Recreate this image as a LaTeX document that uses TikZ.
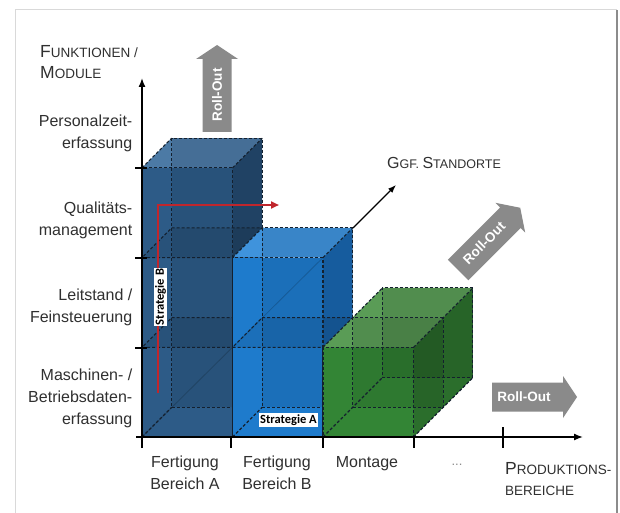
\documentclass[tikz,border=0pt]{standalone}
\usepackage{fontspec}
\setmainfont{Liberation Sans}
\newfontfamily\stratfont{Carlito}
\usetikzlibrary{arrows.meta}
\definecolor{dbF}{HTML}{2D5B87}
\definecolor{dbT}{HTML}{4C7AA5}
\definecolor{dbR}{HTML}{24496F}
\definecolor{lbF}{HTML}{1E7BCC}
\definecolor{lbT}{HTML}{3F93DC}
\definecolor{lbR}{HTML}{1966AE}
\definecolor{grF}{HTML}{338535}
\definecolor{grT}{HTML}{5A9C56}
\definecolor{grR}{HTML}{2B6E2C}
\definecolor{edgecol}{HTML}{14202E}
\definecolor{rollgray}{HTML}{8A8A8A}
\definecolor{stratred}{HTML}{C0262C}
\definecolor{txtcol}{HTML}{303030}
\newcommand{\SCbig}[1]{{\fontsize{17.5}{21}\selectfont #1}}
\newcommand{\SCsm}[1]{{\fontsize{13.5}{21}\selectfont #1}}
\newcommand{\rollarrow}[4]{%
  \begin{scope}[shift={(#1,#2)}, rotate=#3]
    \fill[rollgray] (0,-14.5) -- ({#4-14},-14.5) -- ({#4-14},-21) -- (#4,0)
      -- ({#4-14},21) -- ({#4-14},14.5) -- (0,14.5) -- cycle;
  \end{scope}}
\tikzset{
  hid/.style={draw=edgecol, line width=1.1pt, dash pattern=on 3pt off 2pt},
  shadeov/.style={fill=black, fill opacity=0.09},
  faint/.style={draw=black, draw opacity=0.18, line width=0.8pt},
  lab/.style={font=\fontsize{16}{22}\selectfont, text=txtcol, inner sep=0pt},
  capslab/.style={text=txtcol, inner sep=0pt, font=\fontsize{17.5}{21}\selectfont},
  rolltxt/.style={text=white, font=\bfseries\fontsize{13.5}{14}\selectfont, inner sep=0pt},
  stratlab/.style={fill=white, text=black, inner sep=1.3pt, font=\stratfont\bfseries\fontsize{12.5}{13}\selectfont},
  axisline/.style={line width=1.4pt, black},
  tickline/.style={line width=1.2pt, black},
}
\begin{document}
\begin{tikzpicture}[x=1pt,y=-1pt]
\useasboundingbox (0,0) rectangle (620,513);
\fill[white] (0,0) rectangle (620,513);
% frame
\draw[black!15, line width=1pt] (15,513) -- (15,10) -- (617,10);
\draw[black!45, line width=2.5pt] (617,10) -- (617,513);

% ---------- cubes ----------
\begin{scope}[shift={(142,437)}, x={(90.5pt,0pt)}, y={(0pt,89.7pt)}, z={(29.7pt,29.7pt)}]
  % dark blue: a 0..1, height 3, depth 1
  \fill[dbF] (0,0,0) -- (1,0,0) -- (1,3,0) -- (0,3,0) -- cycle;
  \fill[dbT] (0,3,0) -- (1,3,0) -- (1,3,1) -- (0,3,1) -- cycle;
  \fill[dbR] (1,0,0) -- (1,0,1) -- (1,3,1) -- (1,3,0) -- cycle;
  \fill[shadeov] (0,0,1) -- (1,0,1) -- (1,3,1) -- (0,3,1) -- cycle;
  \fill[shadeov] (0,1,0) -- (1,1,0) -- (1,1,1) -- (0,1,1) -- cycle;
  \fill[shadeov] (0,2,0) -- (1,2,0) -- (1,2,1) -- (0,2,1) -- cycle;
  \draw[faint] (0,0,0) -- (1,1,0);
  \draw[hid] (0,0,0) -- (1,0,0) -- (1,3,0) -- (0,3,0) -- cycle;
  \draw[hid] (0,0,1) -- (1,0,1) -- (1,3,1) -- (0,3,1) -- cycle;
  \draw[hid] (0,0,0) -- (0,0,1) (1,0,0) -- (1,0,1) (1,3,0) -- (1,3,1) (0,3,0) -- (0,3,1);
  \draw[hid] (0,1,0) -- (1,1,0) -- (1,1,1) -- (0,1,1) -- cycle;
  \draw[hid] (0,2,0) -- (1,2,0) -- (1,2,1) -- (0,2,1) -- cycle;

  % light blue: a 1..2, height 2, depth 1
  \fill[lbF] (1,0,0) -- (2,0,0) -- (2,2,0) -- (1,2,0) -- cycle;
  \fill[lbT] (1,2,0) -- (2,2,0) -- (2,2,1) -- (1,2,1) -- cycle;
  \fill[lbR] (2,0,0) -- (2,0,1) -- (2,2,1) -- (2,2,0) -- cycle;
  \fill[shadeov] (1,0,1) -- (2,0,1) -- (2,2,1) -- (1,2,1) -- cycle;
  \fill[shadeov] (1,1,0) -- (2,1,0) -- (2,1,1) -- (1,1,1) -- cycle;
  \draw[faint] (1,1,0) -- (2,2,0);
  \draw[hid] (1,0,0) -- (2,0,0) -- (2,2,0) -- (1,2,0) -- cycle;
  \draw[hid] (1,0,1) -- (2,0,1) -- (2,2,1) -- (1,2,1) -- cycle;
  \draw[hid] (1,0,0) -- (1,0,1) (2,0,0) -- (2,0,1) (2,2,0) -- (2,2,1) (1,2,0) -- (1,2,1);
  \draw[hid] (1,1,0) -- (2,1,0) -- (2,1,1) -- (1,1,1) -- cycle;

  % green: a 2..3, height 1, depth 2
  \fill[grF] (2,0,0) -- (3,0,0) -- (3,1,0) -- (2,1,0) -- cycle;
  \fill[grT] (2,1,0) -- (3,1,0) -- (3,1,2) -- (2,1,2) -- cycle;
  \fill[grR] (3,0,0) -- (3,0,2) -- (3,1,2) -- (3,1,0) -- cycle;
  \fill[shadeov] (2,0,2) -- (3,0,2) -- (3,1,2) -- (2,1,2) -- cycle;
  \fill[shadeov] (2,0,1) -- (3,0,1) -- (3,1,1) -- (2,1,1) -- cycle;
  \draw[hid] (2,0,0) -- (3,0,0) -- (3,1,0) -- (2,1,0) -- cycle;
  \draw[hid] (2,0,2) -- (3,0,2) -- (3,1,2) -- (2,1,2) -- cycle;
  \draw[hid] (2,0,0) -- (2,0,2) (3,0,0) -- (3,0,2) (3,1,0) -- (3,1,2) (2,1,0) -- (2,1,2);
  \draw[hid] (2,0,1) -- (3,0,1) -- (3,1,1) -- (2,1,1) -- cycle;
\end{scope}

% ---------- axes ----------
\coordinate (Ybot) at (142,448);
\coordinate (Ytop) at (142,78);
\coordinate (Xstart) at (136,437);
\coordinate (Xend) at (583,437);
\draw[axisline, -{Latex[length=9pt,width=7pt]}] (Ybot) -- (Ytop);
\draw[axisline, -{Latex[length=9pt,width=7pt]}] (Xstart) -- (Xend);
\foreach \yy in {168,258,348} \draw[tickline] (135,\yy) -- (147,\yy);
\foreach \xx in {231,323,414} \draw[tickline] (\xx,437) -- (\xx,448);
\draw[tickline] (503,427) -- (503,448);

% ---------- roll-out arrows ----------
\rollarrow{217}{132}{90}{87}
\rollarrow{458}{270}{45}{88}
\rollarrow{492}{397}{0}{85}
\node[rolltxt, rotate=90] (r1) at (217,95) {Roll-Out};
\node[rolltxt, rotate=45] (r2) at (484,243) {Roll-Out};
\node[rolltxt] (r3) at (524,397) {Roll-Out};

% ---------- standorte arrow ----------
\coordinate (stA) at (353,228);
\coordinate (stB) at (396,185);
\draw[line width=1.3pt, -{Latex[length=8pt,width=6pt]}] (stA) -- (stB);

% ---------- strategies ----------
\coordinate (sbStart) at (158,393);
\coordinate (sbEnd) at (279,205);
\draw[stratred, line width=2pt, -{Triangle[length=8pt,width=7pt]}] (sbStart) |- (sbEnd);
\node[stratlab, rotate=90] (sb) at (160.5,297) {Strategie B};
\node[stratlab] (sa) at (288.5,420) {Strategie A};

% ---------- labels ----------
\node[lab, anchor=east, align=right] (l1) at (132.5,133) {Personalzeit-\\erfassung};
\node[lab, anchor=east, align=right] (l2) at (132.5,220) {Qualitäts-\\management};
\node[lab, anchor=east, align=right] (l3) at (132.5,307) {Leitstand /\\Feinsteuerung};
\node[lab, anchor=east, align=right] (l4) at (132.5,398) {Maschinen- /\\Betriebsdaten-\\erfassung};

\node[lab, anchor=north, align=center] (b1) at (185,456) {Fertigung\\Bereich A};
\node[lab, anchor=north, align=center] (b2) at (277,456) {Fertigung\\Bereich B};
\node[lab, anchor=north] (b3) at (367,456) {Montage};
\node[lab, text=black!45, font=\fontsize{13}{14}\selectfont] (b4) at (457,465) {...};

\node[capslab, anchor=north west, align=left] (ylab) at (40,45) {\SCbig{F}\SCsm{UNKTIONEN /}\\\SCbig{M}\SCsm{ODULE}};
\node[capslab, anchor=base west] (glab) at (387,168) {{\fontsize{16}{20}\selectfont G}{\fontsize{12.5}{20}\selectfont GF. }{\fontsize{16}{20}\selectfont S}{\fontsize{12.5}{20}\selectfont TANDORTE}};
\node[capslab, anchor=north west, align=left] (xlab) at (505,462) {\SCbig{P}\SCsm{RODUKTIONS-}\\\SCsm{BEREICHE}};
\end{tikzpicture}
\end{document}
